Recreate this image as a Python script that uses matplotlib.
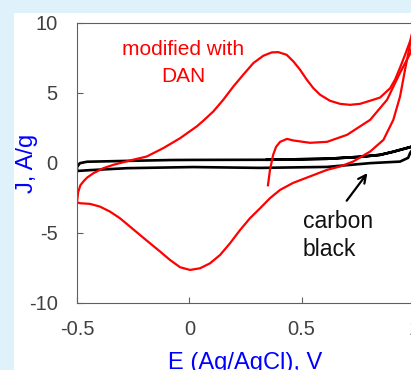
import matplotlib.pyplot as plt
from matplotlib.patches import Rectangle
import numpy as np

# DAN-modified electrode, first sweep starting at 0.35 V
dan_start_E = [0.35, 0.359, 0.373, 0.386, 0.404, 0.435, 0.462, 0.537, 0.613, 0.702, 0.805, 0.880, 0.938, 0.983, 1.0]
dan_start_J = [-1.6, -0.5, 0.57, 1.14, 1.5, 1.71, 1.6, 1.43, 1.5, 2.0, 3.07, 4.5, 6.43, 7.8, 8.8]

# reverse sweep 1.0 -> -0.5 V
dan_rev_E = [1.0, 0.983, 0.960, 0.938, 0.908, 0.864, 0.805, 0.730, 0.671, 0.613, 0.540, 0.462, 0.404,
             0.359, 0.315, 0.270, 0.226, 0.181, 0.137, 0.092, 0.048, 0.003, -0.041, -0.086, -0.130,
             -0.175, -0.220, -0.264, -0.309, -0.353, -0.398, -0.442, -0.487, -0.5]
dan_rev_J = [9.8, 8.5, 6.64, 4.74, 3.07, 1.64, 0.81, 0.1, -0.26, -0.5, -0.95, -1.43, -1.93,
             -2.52, -3.24, -3.95, -4.79, -5.74, -6.57, -7.17, -7.52, -7.64, -7.45, -6.93, -6.33,
             -5.74, -5.14, -4.55, -3.95, -3.48, -3.12, -2.93, -2.88, -2.82]

# forward sweep -0.5 -> 1.0 V
dan_fwd_E = [-0.5, -0.495, -0.485, -0.47, -0.455, -0.427, -0.383, -0.338, -0.264, -0.190, -0.116, -0.041,
             0.033, 0.062, 0.107, 0.151, 0.196, 0.240, 0.285, 0.329, 0.367, 0.396, 0.433, 0.463,
             0.493, 0.523, 0.552, 0.582, 0.626, 0.671, 0.715, 0.760, 0.818, 0.849, 0.894, 0.916,
             0.938, 0.960, 0.983, 1.0]
dan_fwd_J = [-2.82, -2.1, -1.6, -1.3, -1.05, -0.74, -0.38, -0.14, 0.17, 0.45, 1.05, 1.76,
             2.6, 3.0, 3.67, 4.5, 5.45, 6.29, 7.12, 7.64, 7.88, 7.9, 7.71, 7.24,
             6.64, 5.93, 5.33, 4.86, 4.43, 4.21, 4.14, 4.21, 4.5, 4.66, 5.33, 5.95,
             6.8, 7.7, 8.7, 9.8]

# carbon black
cb_up_E = [-0.5, -0.487, -0.455, -0.277, -0.086, 0.016, 0.346, 0.613, 0.760, 0.849, 0.907, 0.987, 1.0]
cb_up_J = [-0.3, -0.02, 0.08, 0.14, 0.2, 0.21, 0.22, 0.29, 0.43, 0.57, 0.79, 1.14, 1.25]
cb_down_E = [1.0, 0.983, 0.974, 0.938, 0.805, 0.613, 0.315, 0.016, -0.277, -0.442, -0.5]
cb_down_J = [1.1, 0.71, 0.36, 0.09, -0.02, -0.29, -0.36, -0.3, -0.38, -0.52, -0.58]

xticks = [-0.5, 0, 0.5, 1]
xticklabels = ['-0.5', '0', '0.5', '1']
yticks = [-10, -5, 0, 5, 10]

plt.rcParams['font.family'] = ['Liberation Sans', 'DejaVu Sans']
plt.rcParams['axes.unicode_minus'] = False

W, H = 411, 370
fig = plt.figure(figsize=(W / 100, H / 100), dpi=100)
fig.patch.set_facecolor('#dff1fa')
fig.patches.append(Rectangle((14 / W, 0), 1, 1 - 13 / H, transform=fig.transFigure,
                             facecolor='white', edgecolor='none', zorder=-1))

ax = fig.add_axes([77 / W, 67 / H, 337 / W, 280.3 / H])
ax.set_xlim(-0.5, 1.0)
ax.set_ylim(-10, 10)

# carbon black: start at 0.35 V, go up, back down to -0.5, then up again
up_E = np.array(cb_up_E)
up_J = np.array(cb_up_J)
m = up_E >= 0.346
cb_E = np.concatenate([up_E[m], cb_down_E, up_E])
cb_J = np.concatenate([up_J[m], cb_down_J, up_J])
ax.plot(cb_E, cb_J, color='black', lw=1.9, solid_joinstyle='round')

red = '#ff0000'
for e, j in [(dan_start_E, dan_start_J), (dan_rev_E, dan_rev_J), (dan_fwd_E, dan_fwd_J)]:
    ax.plot(e, j, color=red, lw=1.6, solid_joinstyle='round')

ax.set_xticks(xticks)
ax.set_xticklabels(xticklabels)
ax.set_yticks(yticks)
ax.tick_params(direction='in', length=4, width=0.8, color='#606060', labelcolor='#404040',
               labelsize=14.5)
ax.tick_params(axis='y', pad=14)
ax.tick_params(axis='x', pad=12)
for s in ax.spines.values():
    s.set_color('#606060')
    s.set_linewidth(0.8)

ax.text(-0.028, 8.07, 'modified with', color=red, fontsize=15, ha='center', va='center')
ax.text(-0.028, 6.14, 'DAN', color=red, fontsize=15, ha='center', va='center')
ax.text(0.506, -4.21, 'carbon', color='#111111', fontsize=16.5, ha='left', va='center')
ax.text(0.506, -6.21, 'black', color='#111111', fontsize=16.5, ha='left', va='center')
ax.annotate('', xy=(0.800, -0.57), xytext=(0.693, -2.86),
            arrowprops=dict(arrowstyle='->', color='black', lw=1.6, mutation_scale=14))

fig.text(245 / W, 1.5 / H, 'E (Ag/AgCl), V', color='#0000ff', fontsize=17, ha='center', va='baseline')
fig.text(27 / W, 1 - 163 / H, 'J, A/g', color='#0000ff', fontsize=17, ha='center', va='center',
         rotation=90)

fig.savefig('out.png', dpi=100)
